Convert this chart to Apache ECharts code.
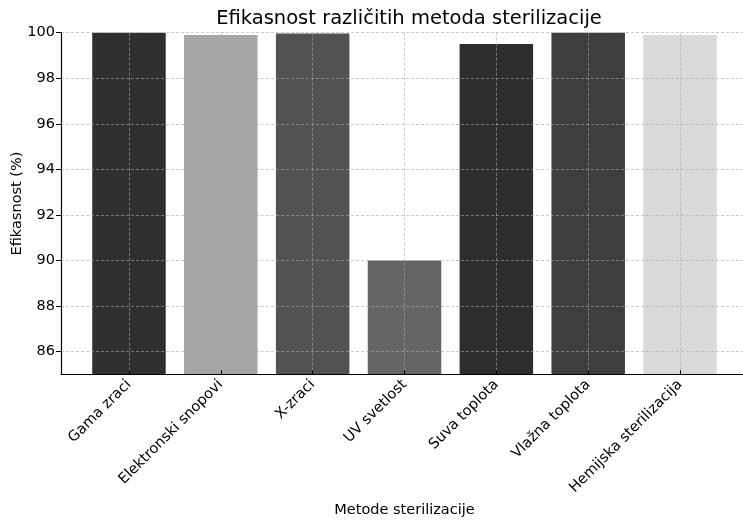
<!DOCTYPE html>
<html>
<head>
<meta charset="utf-8">
<script src="https://cdn.jsdelivr.net/npm/echarts@6/dist/echarts.min.js"></script>
<style>
  html, body { margin: 0; padding: 0; background: #fff; }
  #chart { width: 743px; height: 522px; }
</style>
</head>
<body>
<div id="chart"></div>
<script>
// podaci
const methods = ['Gama zraci', 'Elektronski snopovi', 'X-zraci', 'UV svetlost', 'Suva toplota', 'Vlažna toplota', 'Hemijska sterilizacija'];
const efficacy = [100, 99.9, 99.97, 90, 99.5, 100, 99.9];
const barColors = ['#2f2f2f', '#a6a6a6', '#525252', '#656565', '#2d2d2d', '#3e3e3e', '#dadada'];
const yTicks = [86, 88, 90, 92, 94, 96, 98, 100];
const xTicks = [0, 1, 2, 3, 4, 5, 6];

const chart = echarts.init(document.getElementById('chart'));
const font = 'DejaVu Sans';
const gridLine = { show: true, lineStyle: { color: 'rgba(170,170,170,0.75)', type: [3, 2], width: 0.8 } };

chart.setOption({
  backgroundColor: '#fff',
  animation: false,
  textStyle: { fontFamily: font },
  title: {
    text: 'Efikasnost različitih metoda sterilizacije',
    left: 404, top: 4, textAlign: 'center',
    textStyle: { fontFamily: font, fontSize: 19.5, fontWeight: 'normal', color: '#000' }
  },
  // naslov y ose
  graphic: [{
    type: 'text', x: 17, y: 203.5, rotation: Math.PI / 2,
    style: {
      text: 'Efikasnost (%)', font: '14.5px "DejaVu Sans"', fill: '#000',
      align: 'center', verticalAlign: 'middle'
    }
  }],
  grid: { left: 61, right: -5, top: 32.7, bottom: 147.7, outerBoundsMode: 'none' },
  xAxis: {
    type: 'value', min: -0.74, max: 6.74, z: 3,
    name: 'Metode sterilizacije', nameLocation: 'middle', nameGap: 128, nameMoveOverlap: false,
    nameTextStyle: { fontFamily: font, fontSize: 14.5, color: '#000' },
    axisLine: { show: true, onZero: false, lineStyle: { color: '#000', width: 1.2 } },
    axisTick: { show: true, inside: true, length: 4, customValues: xTicks, lineStyle: { color: '#000' } },
    axisLabel: {
      customValues: xTicks, rotate: 45, fontFamily: font, fontSize: 14.5, color: '#000', margin: 8,
      formatter: v => methods[Math.round(v)]
    },
    splitLine: gridLine
  },
  yAxis: {
    type: 'value', min: 85, max: 100, z: 3,
    axisLine: { show: true, onZero: false, lineStyle: { color: '#000', width: 1.2 } },
    axisTick: { show: true, length: 5, customValues: yTicks, lineStyle: { color: '#000' } },
    axisLabel: { customValues: yTicks, fontFamily: font, fontSize: 14.5, color: '#000', margin: 6 },
    splitLine: gridLine
  },
  series: [{
    type: 'bar', z: 1,
    barWidth: 73.5,
    data: efficacy.map((v, i) => ({ value: [i, v], itemStyle: { color: barColors[i] } }))
  }]
});
</script>
</body>
</html>
